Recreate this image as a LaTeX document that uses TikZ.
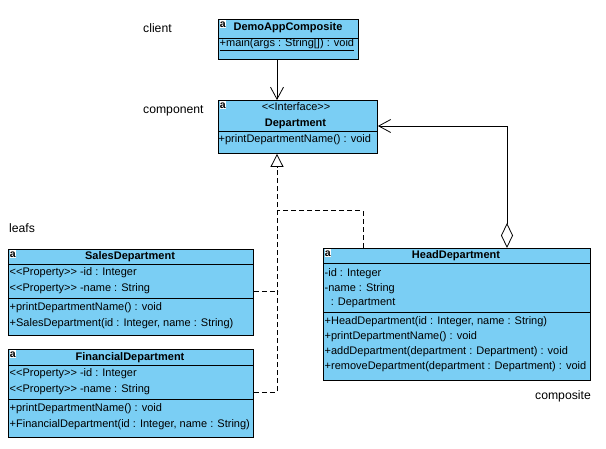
\documentclass[tikz,border=0pt]{standalone}
\usepackage{fontspec}
\setmainfont{Liberation Sans}[Ligatures=TeXOff]
\usetikzlibrary{arrows.meta,calc}
\definecolor{umlfill}{RGB}{122,206,244}

\begin{document}
\begin{tikzpicture}[x=1pt,y=-1pt,
  font=\fontsize{11}{13}\selectfont,
  classbox/.style={draw=black, fill=umlfill, line width=0.9pt, inner sep=0pt, anchor=north west},
  divider/.style={line width=0.9pt},
  member/.style={anchor=base west, inner sep=0pt},
  ctitle/.style={anchor=base, inner sep=0pt, font=\fontsize{11}{13}\selectfont\bfseries},
  stereo/.style={anchor=base, inner sep=0pt},
  cicon/.style={anchor=north west, fill=white, inner sep=0pt, text height=7pt, text depth=0.6pt, text width=6pt, align=center, font=\fontsize{10.5}{10}\selectfont\bfseries},
  note/.style={inner sep=0pt, font=\fontsize{12.2}{14}\selectfont},
  conn/.style={line width=0.8pt},
  realize/.style={line width=0.8pt, dash pattern=on 5pt off 3pt},
  openhead/.style={-{Straight Barb[length=12pt,width=13pt,line width=0.8pt]}},
  generalize/.style={-{Triangle[open,length=13pt,width=13pt,line width=0.8pt,fill=white]}},
  aggregate/.style={{Diamond[open,length=25pt,width=12pt,line width=0.8pt,fill=white]}-{Straight Barb[length=12pt,width=13pt,line width=0.8pt]}}
]
\useasboundingbox[fill=white] (0,0) rectangle (606,449);

% --- role labels ---
\node[note, anchor=base west] (lclient) at (143,33) {client};
\node[note, anchor=base west] (lcomponent) at (143,114) {component};
\node[note, anchor=base west] (lleafs) at (9,233) {leafs};
\node[note, anchor=base east] (lcomposite) at (591,400) {composite};

% --- DemoAppComposite ---
\node[classbox, minimum width=140pt, minimum height=40pt] (demo) at (218,19) {};
\draw[divider] (218,38) -- (358,38);
\node[cicon] (demoicon) at (219.5,20) {a};
\node[ctitle] (demotitle) at (288,30.5) {DemoAppComposite};
\node[member] (demomain) at (219.5,47) {\underline{+main(args : String[]) : void}};

% --- Department ---
\node[classbox, minimum width=159pt, minimum height=53pt] (dep) at (218,100) {};
\draw[divider] (218,131) -- (377,131);
\node[cicon] (depicon) at (219.5,101) {a};
\node[stereo] (depstereo) at (296,111) {<<Interface>>};
\node[ctitle] (deptitle) at (295.5,126.5) {Department};
\node[member] (depm1) at (218.5,142.3) {+printDepartmentName() : void};

% --- SalesDepartment ---
\node[classbox, minimum width=245pt, minimum height=86pt] (sales) at (8,249) {};
\draw[divider] (8,264) -- (253,264);
\draw[divider] (8,298) -- (253,298);
\node[cicon] (salesicon) at (9.5,250) {a};
\node[ctitle] (salestitle) at (130,260) {SalesDepartment};
\node[member] (salesa1) at (9.5,276) {<<Property>> -id : Integer};
\node[member] (salesa2) at (9.5,292) {<<Property>> -name : String};
\node[member] (salesm1) at (9.5,311) {+printDepartmentName() : void};
\node[member] (salesm2) at (9.5,326.5) {+SalesDepartment(id : Integer, name : String)};

% --- FinancialDepartment ---
\node[classbox, minimum width=245pt, minimum height=88pt] (fin) at (8,349) {};
\draw[divider] (8,365) -- (253,365);
\draw[divider] (8,399) -- (253,399);
\node[cicon] (finicon) at (9.5,350) {a};
\node[ctitle] (fintitle) at (130,360.5) {FinancialDepartment};
\node[member] (fina1) at (9.5,376.5) {<<Property>> -id : Integer};
\node[member] (fina2) at (9.5,392.5) {<<Property>> -name : String};
\node[member] (finm1) at (9.5,411.5) {+printDepartmentName() : void};
\node[member] (finm2) at (9.5,427.3) {+FinancialDepartment(id : Integer, name : String)};

% --- HeadDepartment ---
\node[classbox, minimum width=267pt, minimum height=132pt] (head) at (323,248) {};
\draw[divider] (323,263) -- (590,263);
\draw[divider] (323,312) -- (590,312);
\node[cicon] (headicon) at (324.5,249) {a};
\node[ctitle] (headtitle) at (456,259) {HeadDepartment};
\node[member] (heada1) at (324.5,276.5) {-id : Integer};
\node[member] (heada2) at (324.5,291.5) {-name : String};
\node[member] (heada3) at (327.5,306) {\ : Department};
\node[member] (headm1) at (324.5,325) {+HeadDepartment(id : Integer, name : String)};
\node[member] (headm2) at (324.5,340) {+printDepartmentName() : void};
\node[member] (headm3) at (324.5,355) {+addDepartment(department : Department) : void};
\node[member] (headm4) at (324.5,370) {+removeDepartment(department : Department) : void};

% --- connectors ---
% client uses the component interface
\draw[conn, openhead] ($(demo.south west)+(59,0)$) -- ($(dep.north west)+(59,0)$);

% leaves and composite realize Department (shared trunk into one triangle)
\coordinate (trunk) at ($(dep.south west)+(59,0)$);
\draw[realize] ($(sales.north east)+(0,42)$) -- ($(sales.north east)+(24,42)$);
\draw[realize] ($(head.north west)+(40,0)$) |- ($(trunk)+(0,57)$);
\draw[realize, generalize] ($(fin.north east)+(0,43)$) -| (trunk);

% composite aggregates Department children
\draw[conn, aggregate] ($(head.north west)+(184,0)$) |- ($(dep.north east)+(0,26)$);
\end{tikzpicture}
\end{document}
